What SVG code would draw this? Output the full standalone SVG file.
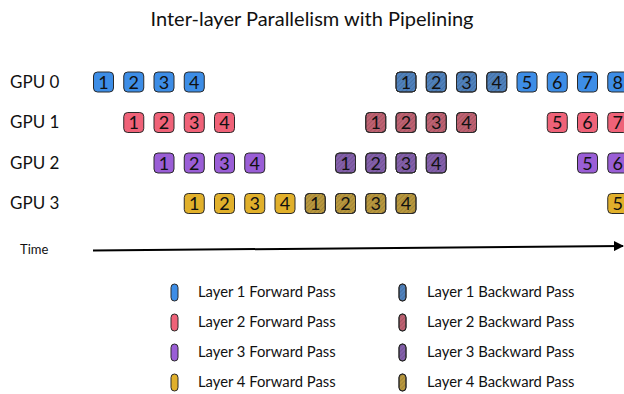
<svg xmlns="http://www.w3.org/2000/svg" width="624" height="394" viewBox="0 0 624 394">
<defs>
<pattern id="hatch" width="3" height="3" patternUnits="userSpaceOnUse" patternTransform="rotate(45)">
<line x1="0.5" y1="0" x2="0.5" y2="3" stroke="#000" stroke-opacity="0.12" stroke-width="1"/>
</pattern>
<marker id="arrow" markerWidth="10" markerHeight="10" refX="9" refY="5" orient="auto" markerUnits="userSpaceOnUse">
<path d="M0,0 L10,5 L0,10 Z" fill="#000"/>
</marker>
</defs>
<style>
text{font-family:Lato,"Open Sans","Liberation Sans",sans-serif;fill:#111}
.title{font-size:20px;text-anchor:middle}
.gpu{font-size:17px}
.n{font-size:18px;text-anchor:middle}
.leg{font-size:14.8px}
.time{font-size:13px}
.b{stroke:#2a2a2a;stroke-width:1}
.h{fill:url(#hatch);stroke:#2a2a2a;stroke-width:1}
.f1{fill:#3d8de6}.k1{fill:#5082bd}
.f2{fill:#ef6278}.k2{fill:#bf6272}
.f3{fill:#9a5ed6}.k3{fill:#8460ab}
.f4{fill:#e1b02b}.k4{fill:#b9983e}
</style>
<rect width="624" height="394" fill="#fff"/>
<text class="title" x="312" y="26">Inter-layer Parallelism with Pipelining</text>

<g id="labels">
<text class="gpu" x="10" y="88">GPU 0</text>
<text class="gpu" x="10" y="128">GPU 1</text>
<text class="gpu" x="10" y="169">GPU 2</text>
<text class="gpu" x="10" y="209">GPU 3</text>
<text class="time" x="20" y="254">Time</text>
</g>

<g id="gpu0">
<g id="g0-f1"><rect class="b f1" x="93.5" y="72" width="20" height="20" rx="4"/><text class="n" x="103.5" y="88.5">1</text></g>
<g id="g0-f2"><rect class="b f1" x="123.75" y="72" width="20" height="20" rx="4"/><text class="n" x="133.75" y="88.5">2</text></g>
<g id="g0-f3"><rect class="b f1" x="154" y="72" width="20" height="20" rx="4"/><text class="n" x="164" y="88.5">3</text></g>
<g id="g0-f4"><rect class="b f1" x="184.25" y="72" width="20" height="20" rx="4"/><text class="n" x="194.25" y="88.5">4</text></g>
<g id="g0-b1"><rect class="b k1" x="396" y="72" width="20" height="20" rx="4"/><rect class="h" x="396" y="72" width="20" height="20" rx="4"/><text class="n" x="406" y="88.5">1</text></g>
<g id="g0-b2"><rect class="b k1" x="426.25" y="72" width="20" height="20" rx="4"/><rect class="h" x="426.25" y="72" width="20" height="20" rx="4"/><text class="n" x="436.25" y="88.5">2</text></g>
<g id="g0-b3"><rect class="b k1" x="456.5" y="72" width="20" height="20" rx="4"/><rect class="h" x="456.5" y="72" width="20" height="20" rx="4"/><text class="n" x="466.5" y="88.5">3</text></g>
<g id="g0-b4"><rect class="b k1" x="486.75" y="72" width="20" height="20" rx="4"/><rect class="h" x="486.75" y="72" width="20" height="20" rx="4"/><text class="n" x="496.75" y="88.5">4</text></g>
<g id="g0-f5"><rect class="b f1" x="517" y="72" width="20" height="20" rx="4"/><text class="n" x="527" y="88.5">5</text></g>
<g id="g0-f6"><rect class="b f1" x="547.25" y="72" width="20" height="20" rx="4"/><text class="n" x="557.25" y="88.5">6</text></g>
<g id="g0-f7"><rect class="b f1" x="577.5" y="72" width="20" height="20" rx="4"/><text class="n" x="587.5" y="88.5">7</text></g>
<g id="g0-f8"><rect class="b f1" x="607.75" y="72" width="20" height="20" rx="4"/><text class="n" x="617.75" y="88.5">8</text></g>
</g>

<g id="gpu1">
<g id="g1-f1"><rect class="b f2" x="123.75" y="112.5" width="20" height="20" rx="4"/><text class="n" x="133.75" y="129">1</text></g>
<g id="g1-f2"><rect class="b f2" x="154" y="112.5" width="20" height="20" rx="4"/><text class="n" x="164" y="129">2</text></g>
<g id="g1-f3"><rect class="b f2" x="184.25" y="112.5" width="20" height="20" rx="4"/><text class="n" x="194.25" y="129">3</text></g>
<g id="g1-f4"><rect class="b f2" x="214.5" y="112.5" width="20" height="20" rx="4"/><text class="n" x="224.5" y="129">4</text></g>
<g id="g1-b1"><rect class="b k2" x="365.75" y="112.5" width="20" height="20" rx="4"/><rect class="h" x="365.75" y="112.5" width="20" height="20" rx="4"/><text class="n" x="375.75" y="129">1</text></g>
<g id="g1-b2"><rect class="b k2" x="396" y="112.5" width="20" height="20" rx="4"/><rect class="h" x="396" y="112.5" width="20" height="20" rx="4"/><text class="n" x="406" y="129">2</text></g>
<g id="g1-b3"><rect class="b k2" x="426.25" y="112.5" width="20" height="20" rx="4"/><rect class="h" x="426.25" y="112.5" width="20" height="20" rx="4"/><text class="n" x="436.25" y="129">3</text></g>
<g id="g1-b4"><rect class="b k2" x="456.5" y="112.5" width="20" height="20" rx="4"/><rect class="h" x="456.5" y="112.5" width="20" height="20" rx="4"/><text class="n" x="466.5" y="129">4</text></g>
<g id="g1-f5"><rect class="b f2" x="547.25" y="112.5" width="20" height="20" rx="4"/><text class="n" x="557.25" y="129">5</text></g>
<g id="g1-f6"><rect class="b f2" x="577.5" y="112.5" width="20" height="20" rx="4"/><text class="n" x="587.5" y="129">6</text></g>
<g id="g1-f7"><rect class="b f2" x="607.75" y="112.5" width="20" height="20" rx="4"/><text class="n" x="617.75" y="129">7</text></g>
</g>

<g id="gpu2">
<g id="g2-f1"><rect class="b f3" x="154" y="153" width="20" height="20" rx="4"/><text class="n" x="164" y="169.5">1</text></g>
<g id="g2-f2"><rect class="b f3" x="184.25" y="153" width="20" height="20" rx="4"/><text class="n" x="194.25" y="169.5">2</text></g>
<g id="g2-f3"><rect class="b f3" x="214.5" y="153" width="20" height="20" rx="4"/><text class="n" x="224.5" y="169.5">3</text></g>
<g id="g2-f4"><rect class="b f3" x="244.75" y="153" width="20" height="20" rx="4"/><text class="n" x="254.75" y="169.5">4</text></g>
<g id="g2-b1"><rect class="b k3" x="335.5" y="153" width="20" height="20" rx="4"/><rect class="h" x="335.5" y="153" width="20" height="20" rx="4"/><text class="n" x="345.5" y="169.5">1</text></g>
<g id="g2-b2"><rect class="b k3" x="365.75" y="153" width="20" height="20" rx="4"/><rect class="h" x="365.75" y="153" width="20" height="20" rx="4"/><text class="n" x="375.75" y="169.5">2</text></g>
<g id="g2-b3"><rect class="b k3" x="396" y="153" width="20" height="20" rx="4"/><rect class="h" x="396" y="153" width="20" height="20" rx="4"/><text class="n" x="406" y="169.5">3</text></g>
<g id="g2-b4"><rect class="b k3" x="426.25" y="153" width="20" height="20" rx="4"/><rect class="h" x="426.25" y="153" width="20" height="20" rx="4"/><text class="n" x="436.25" y="169.5">4</text></g>
<g id="g2-f5"><rect class="b f3" x="577.5" y="153" width="20" height="20" rx="4"/><text class="n" x="587.5" y="169.5">5</text></g>
<g id="g2-f6"><rect class="b f3" x="607.75" y="153" width="20" height="20" rx="4"/><text class="n" x="617.75" y="169.5">6</text></g>
</g>

<g id="gpu3">
<g id="g3-f1"><rect class="b f4" x="184.25" y="193.5" width="20" height="20" rx="4"/><text class="n" x="194.25" y="210">1</text></g>
<g id="g3-f2"><rect class="b f4" x="214.5" y="193.5" width="20" height="20" rx="4"/><text class="n" x="224.5" y="210">2</text></g>
<g id="g3-f3"><rect class="b f4" x="244.75" y="193.5" width="20" height="20" rx="4"/><text class="n" x="254.75" y="210">3</text></g>
<g id="g3-f4"><rect class="b f4" x="275" y="193.5" width="20" height="20" rx="4"/><text class="n" x="285" y="210">4</text></g>
<g id="g3-b1"><rect class="b k4" x="305.25" y="193.5" width="20" height="20" rx="4"/><rect class="h" x="305.25" y="193.5" width="20" height="20" rx="4"/><text class="n" x="315.25" y="210">1</text></g>
<g id="g3-b2"><rect class="b k4" x="335.5" y="193.5" width="20" height="20" rx="4"/><rect class="h" x="335.5" y="193.5" width="20" height="20" rx="4"/><text class="n" x="345.5" y="210">2</text></g>
<g id="g3-b3"><rect class="b k4" x="365.75" y="193.5" width="20" height="20" rx="4"/><rect class="h" x="365.75" y="193.5" width="20" height="20" rx="4"/><text class="n" x="375.75" y="210">3</text></g>
<g id="g3-b4"><rect class="b k4" x="396" y="193.5" width="20" height="20" rx="4"/><rect class="h" x="396" y="193.5" width="20" height="20" rx="4"/><text class="n" x="406" y="210">4</text></g>
<g id="g3-f5"><rect class="b f4" x="607.75" y="193.5" width="20" height="20" rx="4"/><text class="n" x="617.75" y="210">5</text></g>
</g>

<g id="connectors">
<line x1="93" y1="250.5" x2="623" y2="246" stroke="#000" stroke-width="2" marker-end="url(#arrow)"/>
</g>

<g id="legend">
<g id="leg-f1"><rect class="b f1" x="171" y="284" width="7" height="17" rx="3.5"/><text class="leg" x="198" y="297">Layer 1 Forward Pass</text></g>
<g id="leg-f2"><rect class="b f2" x="171" y="314" width="7" height="17" rx="3.5"/><text class="leg" x="198" y="327">Layer 2 Forward Pass</text></g>
<g id="leg-f3"><rect class="b f3" x="171" y="344" width="7" height="17" rx="3.5"/><text class="leg" x="198" y="357">Layer 3 Forward Pass</text></g>
<g id="leg-f4"><rect class="b f4" x="171" y="374" width="7" height="17" rx="3.5"/><text class="leg" x="198" y="387">Layer 4 Forward Pass</text></g>
<g id="leg-b1"><rect class="b k1" x="399" y="284" width="7" height="17" rx="3.5"/><rect class="h" x="399" y="284" width="7" height="17" rx="3.5"/><text class="leg" x="427" y="297">Layer 1 Backward Pass</text></g>
<g id="leg-b2"><rect class="b k2" x="399" y="314" width="7" height="17" rx="3.5"/><rect class="h" x="399" y="314" width="7" height="17" rx="3.5"/><text class="leg" x="427" y="327">Layer 2 Backward Pass</text></g>
<g id="leg-b3"><rect class="b k3" x="399" y="344" width="7" height="17" rx="3.5"/><rect class="h" x="399" y="344" width="7" height="17" rx="3.5"/><text class="leg" x="427" y="357">Layer 3 Backward Pass</text></g>
<g id="leg-b4"><rect class="b k4" x="399" y="374" width="7" height="17" rx="3.5"/><rect class="h" x="399" y="374" width="7" height="17" rx="3.5"/><text class="leg" x="427" y="387">Layer 4 Backward Pass</text></g>
</g>
</svg>
